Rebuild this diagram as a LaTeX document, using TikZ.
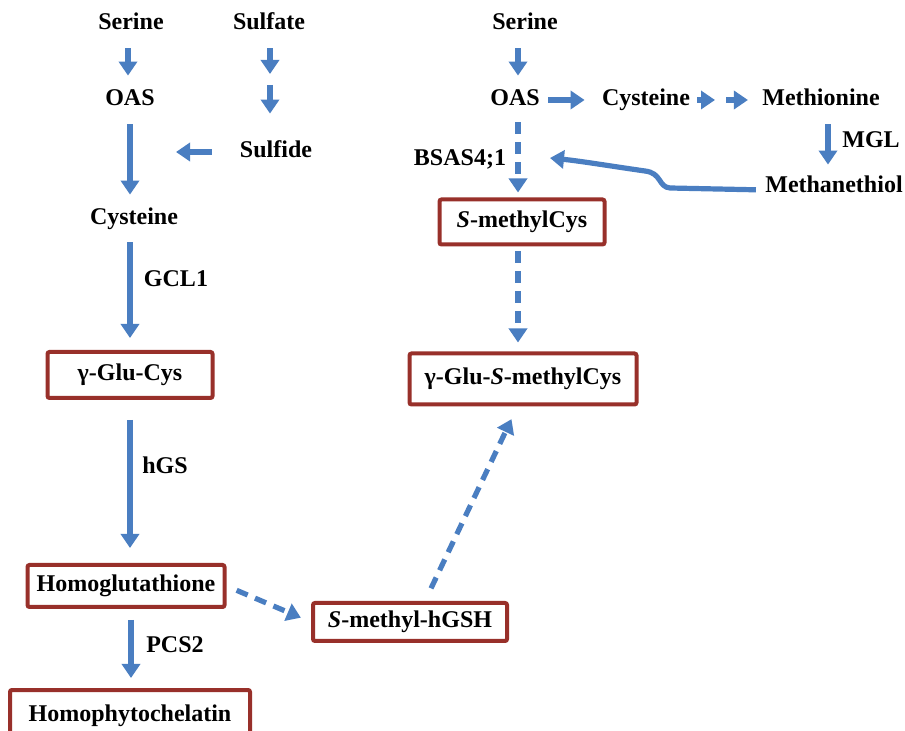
\documentclass[tikz,border=0pt]{standalone}
\usepackage{fontspec}
\setmainfont{Liberation Serif}
\usetikzlibrary{arrows.meta, positioning}
\definecolor{flowblue}{RGB}{74,126,193}
\definecolor{boxred}{RGB}{152,48,42}
\tikzset{
  txt/.style={font=\bfseries\fontsize{12}{14}\selectfont, inner sep=0pt, text height=8pt, text depth=2pt},
  met/.style={txt, yshift=-1pt},
  metbox/.style={txt, draw=boxred, line width=2pt, rounded corners=1pt},
  enz/.style={met},
  flow/.style={draw=flowblue, line width=2.6pt, -{Triangle[width=9pt,length=7pt]}, shorten <=7pt, shorten >=7pt},
  dflow/.style={flow, dash pattern=on 6pt off 4pt}
}
\begin{document}
\begin{tikzpicture}[x=0.5pt,y=-0.5pt]
    \useasboundingbox (0,0) rectangle (905,731);
    \clip (0,0) rectangle (905,731);

    % left branch
    \node[met] (serL) at (131,22) {Serine};
    \node[met] (sulfate) at (269,22) {Sulfate};
    \node[met] (oasL) at (130,98) {OAS};
    \coordinate (sulfmid) at (270,80);
    \node[met] (sulfide) at (276,150) {Sulfide};
    \coordinate (sulfin) at (176,152);
    \node[met] (cysL) at (134,217) {Cysteine};
    \node[metbox, minimum width=82.5pt, minimum height=23pt] (gglu) at (130,375) {γ-Glu-Cys};
    \node[metbox, minimum width=98.5pt, minimum height=21pt] (homog) at (126,586) {Homoglutathione};
    \node[metbox, minimum width=120pt, minimum height=25pt] (hpc) at (130,715) {Homophytochelatin};
    \node[metbox, minimum width=97pt, minimum height=19pt] (smhgsh) at (410,622) {\textit{S}-methyl-hGSH};

    % right branch
    \node[met] (serR) at (525,22) {Serine};
    \node[met] (oasR) at (515,98) {OAS};
    \node[met] (cysR) at (646,98) {Cysteine};
    \coordinate (cysmid) at (720,100);
    \node[met] (metR) at (821,98) {Methionine};
    \node[met] (mthR) at (834,185) {Methanethiol};
    \coordinate (bsasin) at (550,158);
    \node[metbox, minimum width=82.5pt, minimum height=22.5pt] (smcys) at (522,222) {\textit{S}-methylCys};
    \node[metbox, minimum width=113.5pt, minimum height=25.5pt] (gglusm) at (523,379) {γ-Glu-\textit{S}-methylCys};

    % enzymes
    \node[enz] (gcl) at (176,279) {GCL1};
    \node[enz] (hgs) at (165,466) {hGS};
    \node[enz] (pcs) at (175,645) {PCS2};
    \node[enz] (mgl) at (871,140) {MGL};
    \node[enz] (bsas) at (460,158) {BSAS4;1};

    % arrows
    \draw[flow] ([xshift=-1.5pt]serL.south) -- ([xshift=-1pt]oasL.north);
    \draw[flow, shorten >=3pt] ([xshift=0.5pt]sulfate.south) -- (sulfmid);
    \draw[flow, shorten <=2.5pt, shorten >=14pt] (sulfmid) -- (sulfmid |- sulfide.north);
    \draw[flow, shorten <=14pt, shorten >=0pt] (sulfide.west) -- (sulfin);
    \draw[flow] (oasL.south) -- (oasL.south |- cysL.north);
    \draw[flow, shorten <=6.5pt, shorten >=6pt] (oasL.south |- cysL.south) -- (oasL.south |- gglu.north);
    \draw[flow, shorten <=10pt, shorten >=7.5pt] (gglu.south) -- (gglu.south |- homog.north);
    \draw[flow, shorten <=5.5pt, shorten >=5pt] ([xshift=2.5pt]homog.south) -- ([xshift=2.5pt]homog.south |- hpc.north);
    \draw[dflow, shorten <=5.5pt, shorten >=5.5pt] (homog.east) -- (smhgsh.west);
    \draw[dflow] ([xshift=7.5pt]smhgsh.north) -- ([xshift=-2.75pt]gglusm.south);

    \draw[flow] ([xshift=-3.5pt]serR.south) -- ([xshift=1.5pt]oasR.north);
    \draw[flow, shorten <=4pt, shorten >=8.5pt] (oasR.east) -- (cysR.west);
    \draw[flow, shorten <=3.5pt, shorten >=2.5pt] (cysR.east) -- (cysmid);
    \draw[flow, shorten <=3pt, shorten >=7pt] (cysmid) -- (metR.west);
    \draw[flow, shorten <=7pt, shorten >=6pt] ([xshift=3.5pt]metR.south) -- ([xshift=-3pt]mthR.north);
    \draw[flow, shorten <=4.5pt, shorten >=0pt] ([yshift=-1.5pt]mthR.west) -- (670,188)
        .. controls (658,187) and (662,173) .. (645,171)
        .. controls (610,166) and (580,161) .. (bsasin);
    \draw[dflow, shorten <=6pt, shorten >=2.5pt] ([xshift=1.5pt]oasR.south) -- ([xshift=1.5pt]oasR.south |- smcys.north);
    \draw[dflow, shorten <=2.5pt, shorten >=4.5pt] ([xshift=-2pt]smcys.south) -- ([xshift=-2pt]smcys.south |- gglusm.north);
\end{tikzpicture}
\end{document}
